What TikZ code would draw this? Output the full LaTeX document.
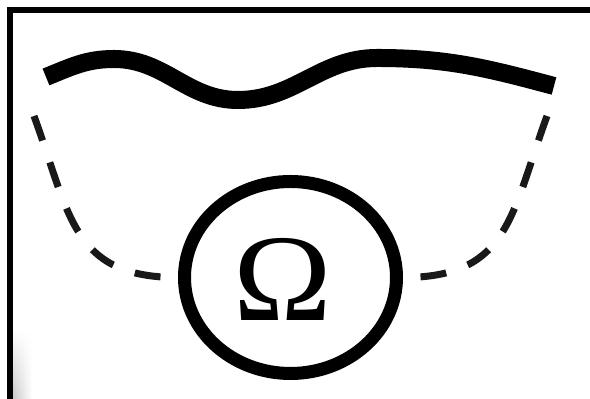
\documentclass[tikz,border=0pt]{standalone}
\usepackage{fontspec}
\newfontfamily\omegafont{Liberation Serif}
\usetikzlibrary{fadings, shapes.geometric}
\definecolor{inkcol}{RGB}{0, 0, 0}
\definecolor{dashcol}{RGB}{25, 25, 25}
\definecolor{shadowcol}{RGB}{200, 200, 200}
\tikzset{
  rim/.style    = {draw=inkcol, line width=3pt},
  ridge/.style  = {draw=inkcol, line width=9pt},
  ring/.style   = {draw=inkcol, ellipse, line width=6.5pt, inner sep=0pt,
                   minimum width=106pt, minimum height=96pt},
  glyph/.style  = {font=\omegafont\fontsize{62pt}{62pt}\selectfont,
                   inner sep=0pt, text=inkcol, xscale=1.07},
  % the two legs hanging from the ridge down to the ring
  tether/.style = {draw=dashcol, line width=3.5pt,
                   dash pattern=on 13pt off 11.5pt},
}

\begin{document}
\begin{tikzpicture}[x=0.5pt, y=0.5pt]

  \useasboundingbox (0,0) rectangle (590,399);

  %% ---------------- frame ----------------
  \shade[left color=shadowcol, right color=white, path fading=north]
       (13,0) rectangle (32,70);
  \draw[rim] (10,0) |- (590,389);

  %% ---------------- ridge ----------------
  \draw[ridge] (46,322) to[out=22, in=180] (114,340)
               to[out=0, in=180] (238,299)
               to[out=0, in=180] (377,341)
               to[out=0, in=165] (554,313);

  %% ---------------- ring ----------------
  \node[ring] (ring) at (290.5,121.5) {};
  \node[glyph] (omega) at (283,120) {Ω};

  %% ---------------- legs ----------------
  \coordinate (ltip) at (34,283);
  \coordinate (rtip) at (547,283);
  \draw[tether] (ltip) to[out=-70, in=180, looseness=1.25] (ring.west);
  \draw[tether] (rtip) to[out=-110, in=0, looseness=1.25] (ring.east);

\end{tikzpicture}
\end{document}
